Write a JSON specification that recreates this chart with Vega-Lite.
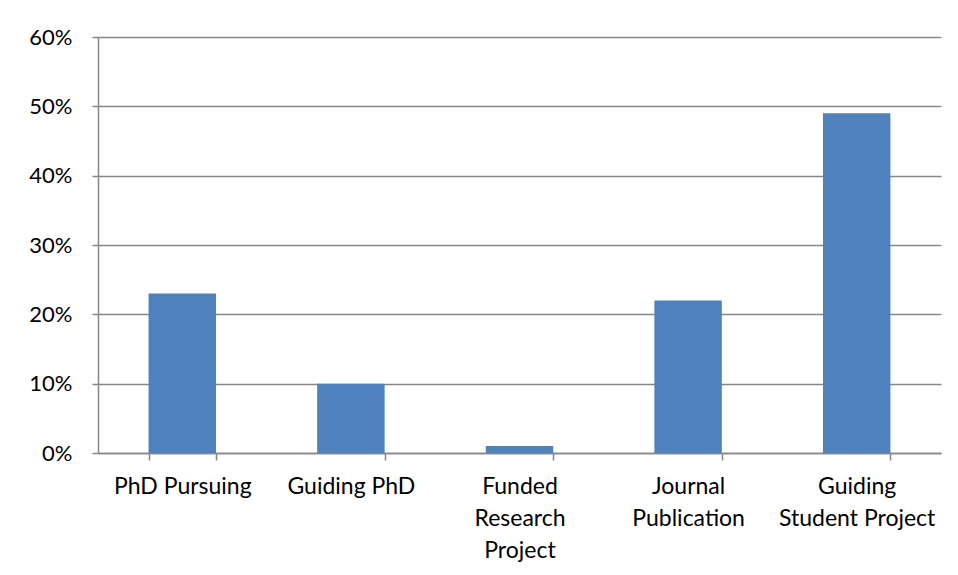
{
  "$schema": "https://vega.github.io/schema/vega-lite/v6.json",
  "width": 843,
  "height": 416,
  "autosize": {"type": "none"},
  "padding": {"left": 98, "top": 37, "right": 17, "bottom": 122},
  "background": "white",
  "data": {"values": [
    {"category": "PhD Pursuing", "value": 0.23},
    {"category": "Guiding PhD", "value": 0.10},
    {"category": "Funded Research Project", "value": 0.01},
    {"category": "Journal Publication", "value": 0.22},
    {"category": "Guiding Student Project", "value": 0.49}
  ]},
  "mark": {"type": "bar", "color": "#4F81BD"},
  "encoding": {
    "x": {
      "field": "category", "type": "nominal", "sort": null,
      "scale": {"paddingInner": 0.6, "paddingOuter": 0.3},
      "axis": {
        "title": null, "labelAngle": 0, "labelAlign": "center", "labelBaseline": "top",
        "labelFont": "Lato", "labelFontSize": 23, "labelColor": "#000000",
        "labelPadding": 15, "labelLineHeight": 32, "labelLimit": 220,
        "labelExpr": "datum.value == 'Funded Research Project' ? ['Funded', 'Research', 'Project'] : datum.value == 'Journal Publication' ? ['Journal', 'Publication'] : datum.value == 'Guiding Student Project' ? ['Guiding', 'Student Project'] : datum.value",
        "tickBand": "extent", "tickSize": 7, "tickColor": "#878787", "tickWidth": 1.5,
        "domainColor": "#878787", "domainWidth": 1.5, "grid": false
      }
    },
    "y": {
      "field": "value", "type": "quantitative",
      "scale": {"domain": [0, 0.6], "nice": false},
      "axis": {
        "title": null, "format": ".0%", "values": [0, 0.1, 0.2, 0.3, 0.4, 0.5, 0.6],
        "labelFont": "Lato", "labelFontSize": 22, "labelColor": "#000000",
        "labelPadding": 20, "tickSize": 6, "tickColor": "#878787", "tickWidth": 1.5,
        "domainColor": "#878787", "domainWidth": 1.5,
        "grid": true, "gridColor": "#878787", "gridWidth": 1.5
      }
    }
  },
  "config": {"view": {"stroke": null}}
}
